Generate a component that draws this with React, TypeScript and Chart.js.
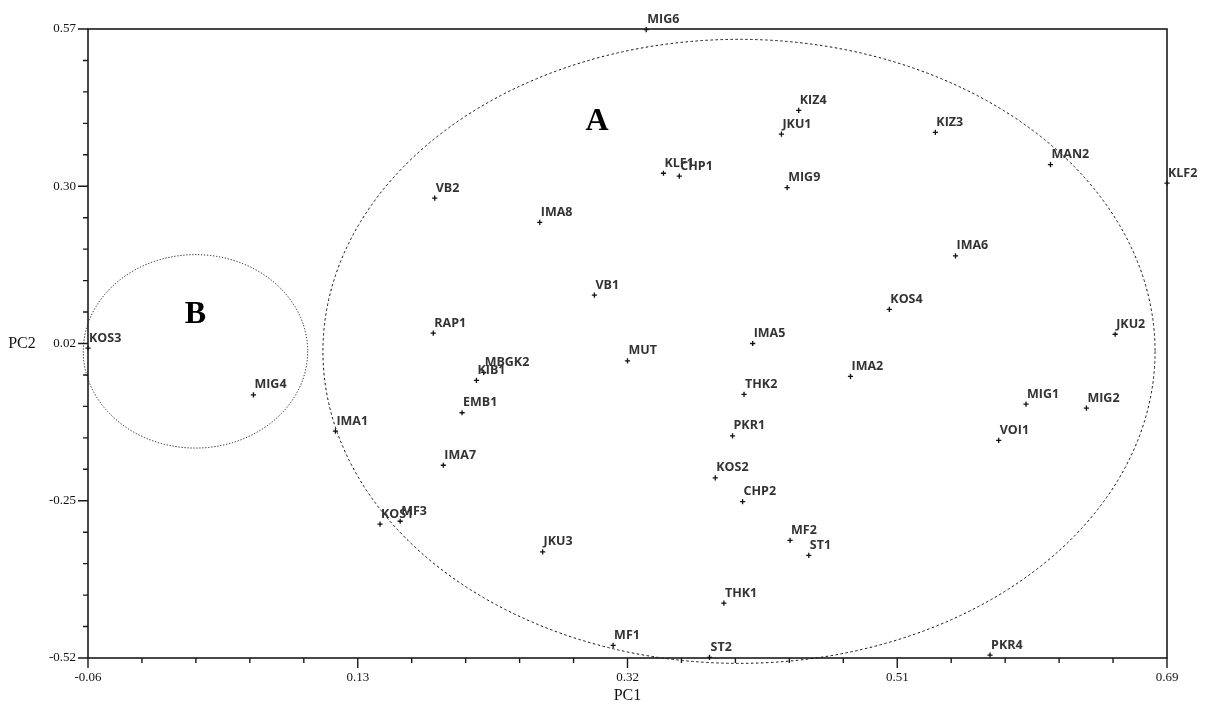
import React, { useEffect, useRef } from 'react';
import { Chart, registerables } from 'chart.js';

Chart.register(...registerables);

// ---- data ----
const sampleLabels = [
  'MIG6', 'KIZ4', 'JKU1', 'KLF1', 'CHP1', 'MIG9', 'KIZ3', 'MAN2', 'KLF2', 'IMA6',
  'KOS3', 'MIG4', 'IMA1', 'VB2', 'IMA8', 'VB1', 'RAP1', 'MUT', 'KIB1', 'MBGK2',
  'EMB1', 'IMA7', 'KOS1', 'MF3', 'JKU3', 'MF1', 'ST2', 'THK1', 'KOS2', 'CHP2',
  'MF2', 'ST1', 'PKR4', 'IMA5', 'THK2', 'PKR1', 'IMA2', 'KOS4', 'VOI1', 'MIG1',
  'MIG2', 'JKU2',
];
const pc1Values = [
  0.328, 0.434, 0.422, 0.340, 0.351, 0.426, 0.529, 0.609, 0.690, 0.543,
  -0.060, 0.055, 0.112, 0.181, 0.254, 0.292, 0.180, 0.315, 0.210, 0.215,
  0.200, 0.187, 0.143, 0.157, 0.256, 0.305, 0.372, 0.382, 0.376, 0.395,
  0.428, 0.441, 0.567, 0.402, 0.396, 0.388, 0.470, 0.497, 0.573, 0.592,
  0.634, 0.654,
];
const pc2Values = [
  0.569, 0.429, 0.388, 0.320, 0.315, 0.295, 0.391, 0.335, 0.303, 0.177,
  0.017, -0.064, -0.127, 0.277, 0.235, 0.109, 0.043, -0.005, -0.039, -0.025,
  -0.095, -0.186, -0.288, -0.283, -0.336, -0.498, -0.519, -0.425, -0.208, -0.249,
  -0.316, -0.342, -0.515, 0.025, -0.063, -0.135, -0.032, 0.084, -0.143, -0.080,
  -0.087, 0.041,
];

const xTickLabels = ['-0.06', '0.13', '0.32', '0.51', '0.69'];
const yTickLabels = ['-0.52', '-0.25', '0.02', '0.30', '0.57'];
const xMin = -0.06;
const xMax = 0.69;
const yMin = -0.52;
const yMax = 0.57;
const minorPerMajor = 5;

const xTitle = 'PC1';
const yTitle = 'PC2';

// group ellipses (data units)
const groupNames = ['A', 'B'];
const groupCenterX = [0.3925, 0.0147];
const groupCenterY = [0.0114, 0.0114];
const groupRadiusX = [0.2892, 0.078];
const groupRadiusY = [0.5407, 0.1676];
const groupLabelX = [0.2938, 0.0147];
const groupLabelY = [0.4092, 0.0756];

const tickValues = (min: number, max: number, n: number) =>
  Array.from({ length: n }, (_, i) => min + (i * (max - min)) / (n - 1));

const decorPlugin = {
  id: 'decor',
  beforeDatasetsDraw(chart: any) {
    const { ctx, scales } = chart;
    const xs = scales.x;
    const ys = scales.y;
    ctx.save();
    groupNames.forEach((name, i) => {
      const cx = xs.getPixelForValue(groupCenterX[i]);
      const cy = ys.getPixelForValue(groupCenterY[i]);
      const rx = Math.abs(xs.getPixelForValue(groupCenterX[i] + groupRadiusX[i]) - cx);
      const ry = Math.abs(ys.getPixelForValue(groupCenterY[i] + groupRadiusY[i]) - cy);
      ctx.beginPath();
      ctx.ellipse(cx, cy, rx, ry, 0, 0, Math.PI * 2);
      ctx.strokeStyle = '#111';
      ctx.lineWidth = 1;
      ctx.setLineDash(i === 0 ? [2.5, 2.5] : [1.2, 1.8]);
      ctx.stroke();
      ctx.setLineDash([]);
      ctx.fillStyle = '#000';
      ctx.font = 'bold 32px "Liberation Serif"';
      ctx.textAlign = 'center';
      ctx.textBaseline = 'middle';
      ctx.fillText(name, xs.getPixelForValue(groupLabelX[i]), ys.getPixelForValue(groupLabelY[i]));
    });
    ctx.restore();
  },
  afterDatasetsDraw(chart: any) {
    const { ctx } = chart;
    const meta = chart.getDatasetMeta(0);
    ctx.save();
    ctx.font = 'bold 12.5px "Open Sans"';
    ctx.fillStyle = '#333';
    ctx.textAlign = 'left';
    ctx.textBaseline = 'alphabetic';
    meta.data.forEach((pt: any, i: number) => {
      ctx.fillText(sampleLabels[i], pt.x + 1, pt.y - 6.5);
    });
    ctx.restore();
  },
  afterDraw(chart: any) {
    const { ctx, chartArea, scales } = chart;
    const { left, right, top, bottom } = chartArea;
    const xs = scales.x;
    const ys = scales.y;
    ctx.save();
    ctx.strokeStyle = '#1a1a1a';
    ctx.lineWidth = 1.6;
    ctx.strokeRect(left, top, right - left, bottom - top);
    ctx.lineWidth = 1.4;
    const xt = tickValues(xMin, xMax, xTickLabels.length);
    const yt = tickValues(yMin, yMax, yTickLabels.length);
    ctx.beginPath();
    xt.forEach((v, i) => {
      const px = xs.getPixelForValue(v);
      ctx.moveTo(px, bottom);
      ctx.lineTo(px, bottom + 10);
      if (i < xt.length - 1) {
        for (let k = 1; k < minorPerMajor; k++) {
          const mv = v + ((xt[i + 1] - v) * k) / minorPerMajor;
          const mp = xs.getPixelForValue(mv);
          ctx.moveTo(mp, bottom);
          ctx.lineTo(mp, bottom + 5);
        }
      }
    });
    yt.forEach((v, i) => {
      const py = ys.getPixelForValue(v);
      ctx.moveTo(left, py);
      ctx.lineTo(left - 10, py);
      if (i < yt.length - 1) {
        for (let k = 1; k < minorPerMajor; k++) {
          const mv = v + ((yt[i + 1] - v) * k) / minorPerMajor;
          const mp = ys.getPixelForValue(mv);
          ctx.moveTo(left, mp);
          ctx.lineTo(left - 5, mp);
        }
      }
    });
    ctx.stroke();

    ctx.fillStyle = '#111';
    ctx.font = '16px "Liberation Serif"';
    ctx.textAlign = 'center';
    ctx.textBaseline = 'middle';
    ctx.fillText(xTitle, (left + right) / 2, 696);
    ctx.fillText(yTitle, 22, (top + bottom) / 2);
    ctx.restore();
  },
};

export default function App() {
  const canvasRef = useRef<HTMLCanvasElement | null>(null);

  useEffect(() => {
    if (!canvasRef.current) return;
    const points = pc1Values.map((x, i) => ({ x, y: pc2Values[i] }));
    const chart = new Chart(canvasRef.current, {
      type: 'scatter',
      data: {
        datasets: [
          {
            data: points,
            pointStyle: 'cross',
            pointRadius: 2.6,
            pointBorderWidth: 1.3,
            borderColor: '#111',
            backgroundColor: '#111',
            clip: false as any,
          } as any,
        ],
      },
      options: {
        responsive: false,
        animation: false,
        layout: { padding: { top: 29, right: 41, left: 0, bottom: 0 } },
        plugins: { legend: { display: false }, tooltip: { enabled: false } },
        scales: {
          x: {
            type: 'linear',
            min: xMin,
            max: xMax,
            grid: { display: false, drawTicks: false },
            border: { display: false },
            afterBuildTicks: (s: any) => {
              s.ticks = tickValues(xMin, xMax, xTickLabels.length).map((value) => ({ value }));
            },
            afterFit: (s: any) => {
              s.height = 46;
            },
            ticks: {
              autoSkip: false,
              maxRotation: 0,
              padding: 12,
              color: '#111',
              font: { family: '"Liberation Serif"', size: 13 },
              callback: (_v: any, i: number) => xTickLabels[i],
            },
          },
          y: {
            type: 'linear',
            min: yMin,
            max: yMax,
            grid: { display: false, drawTicks: false },
            border: { display: false },
            afterBuildTicks: (s: any) => {
              s.ticks = tickValues(yMin, yMax, yTickLabels.length).map((value) => ({ value }));
            },
            afterFit: (s: any) => {
              s.width = 88;
            },
            ticks: {
              autoSkip: false,
              padding: 12,
              color: '#111',
              font: { family: '"Liberation Serif"', size: 13 },
              callback: (_v: any, i: number) => yTickLabels[i],
            },
          },
        },
      },
      plugins: [decorPlugin],
    });
    return () => chart.destroy();
  }, []);

  return (
    <div style={{ position: 'absolute', left: 0, top: 0, width: 1208, height: 704, background: '#fff' }}>
      <canvas ref={canvasRef} width={1208} height={704} style={{ display: 'block' }} />
    </div>
  );
}
